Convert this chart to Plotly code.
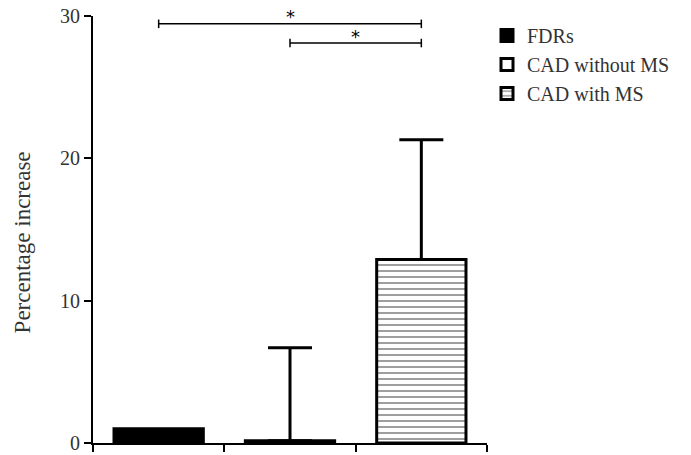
import plotly.graph_objects as go

categories = ["FDRs", "CAD without MS", "CAD with MS"]
means = [1.0, 0.15, 12.9]
err_up = [0.0, 6.55, 8.4]
positions = [0, 1, 2]
fills = ["black", "white", "white"]
patterns = ["", "", "-"]

brackets = [(0, 2, 29.45), (1, 2, 28.1)]
y_ticks = [0, 10, 20, 30]

FONT = "Liberation Serif, serif"
fig = go.Figure()
for i, name in enumerate(categories):
    fig.add_trace(go.Bar(
        x=[positions[i]], y=[means[i]], name=name, width=0.68,
        marker=dict(color=fills[i], line=dict(color="black", width=3),
                    pattern=dict(shape=patterns[i], fgcolor="black", bgcolor="white",
                                 size=6, solidity=0.25)),
        error_y=dict(type="data", symmetric=False, array=[err_up[i]], arrayminus=[0],
                     color="black", thickness=3, width=22, visible=err_up[i] > 0),
    ))

for x0, x1, yv in brackets:
    cap = 0.3
    fig.add_trace(go.Scatter(
        x=[x0, x0, None, x0, x1, None, x1, x1],
        y=[yv - cap, yv + cap, None, yv, yv, None, yv - cap, yv + cap],
        mode="lines", line=dict(color="black", width=1.5), showlegend=False,
        hoverinfo="skip"))
    fig.add_annotation(x=(x0 + x1) / 2, y=yv, text="*", showarrow=False,
                       yshift=7, font=dict(size=18, color="black", family="DejaVu Sans"))

fig.add_annotation(text="Percentage increase", xref="paper", yref="paper",
                   x=-0.18, y=0.47, xanchor="center", yanchor="middle",
                   textangle=-90, showarrow=False,
                   font=dict(size=23, family=FONT, color="#333333"))

fig.update_layout(
    width=691, height=455, barmode="overlay",
    margin=dict(l=93, r=204, t=16, b=12, autoexpand=False),
    plot_bgcolor="white", paper_bgcolor="white",
    font=dict(family=FONT, color="#333333", size=20),
    legend=dict(x=1.0, y=1.0, xanchor="left", yanchor="top",
                font=dict(size=20, family=FONT, color="#333333"),
                tracegroupgap=0, itemwidth=30),
    xaxis=dict(range=[-0.5, 2.5], tickvals=[-0.5, 0.5, 1.5, 2.5], showticklabels=False,
               ticks="outside", ticklen=7, tickwidth=2, tickcolor="black",
               showline=True, linecolor="black", linewidth=2, showgrid=False,
               zeroline=False, automargin=False),
    yaxis=dict(range=[0, 30], tickvals=y_ticks, ticks="outside", ticklen=7, tickwidth=2,
               tickcolor="black", showline=True, linecolor="black", linewidth=2,
               showgrid=False, zeroline=False, tickfont=dict(size=20), automargin=False,
               ticklabeloverflow="allow"),
)
fig.write_html("out.html")
